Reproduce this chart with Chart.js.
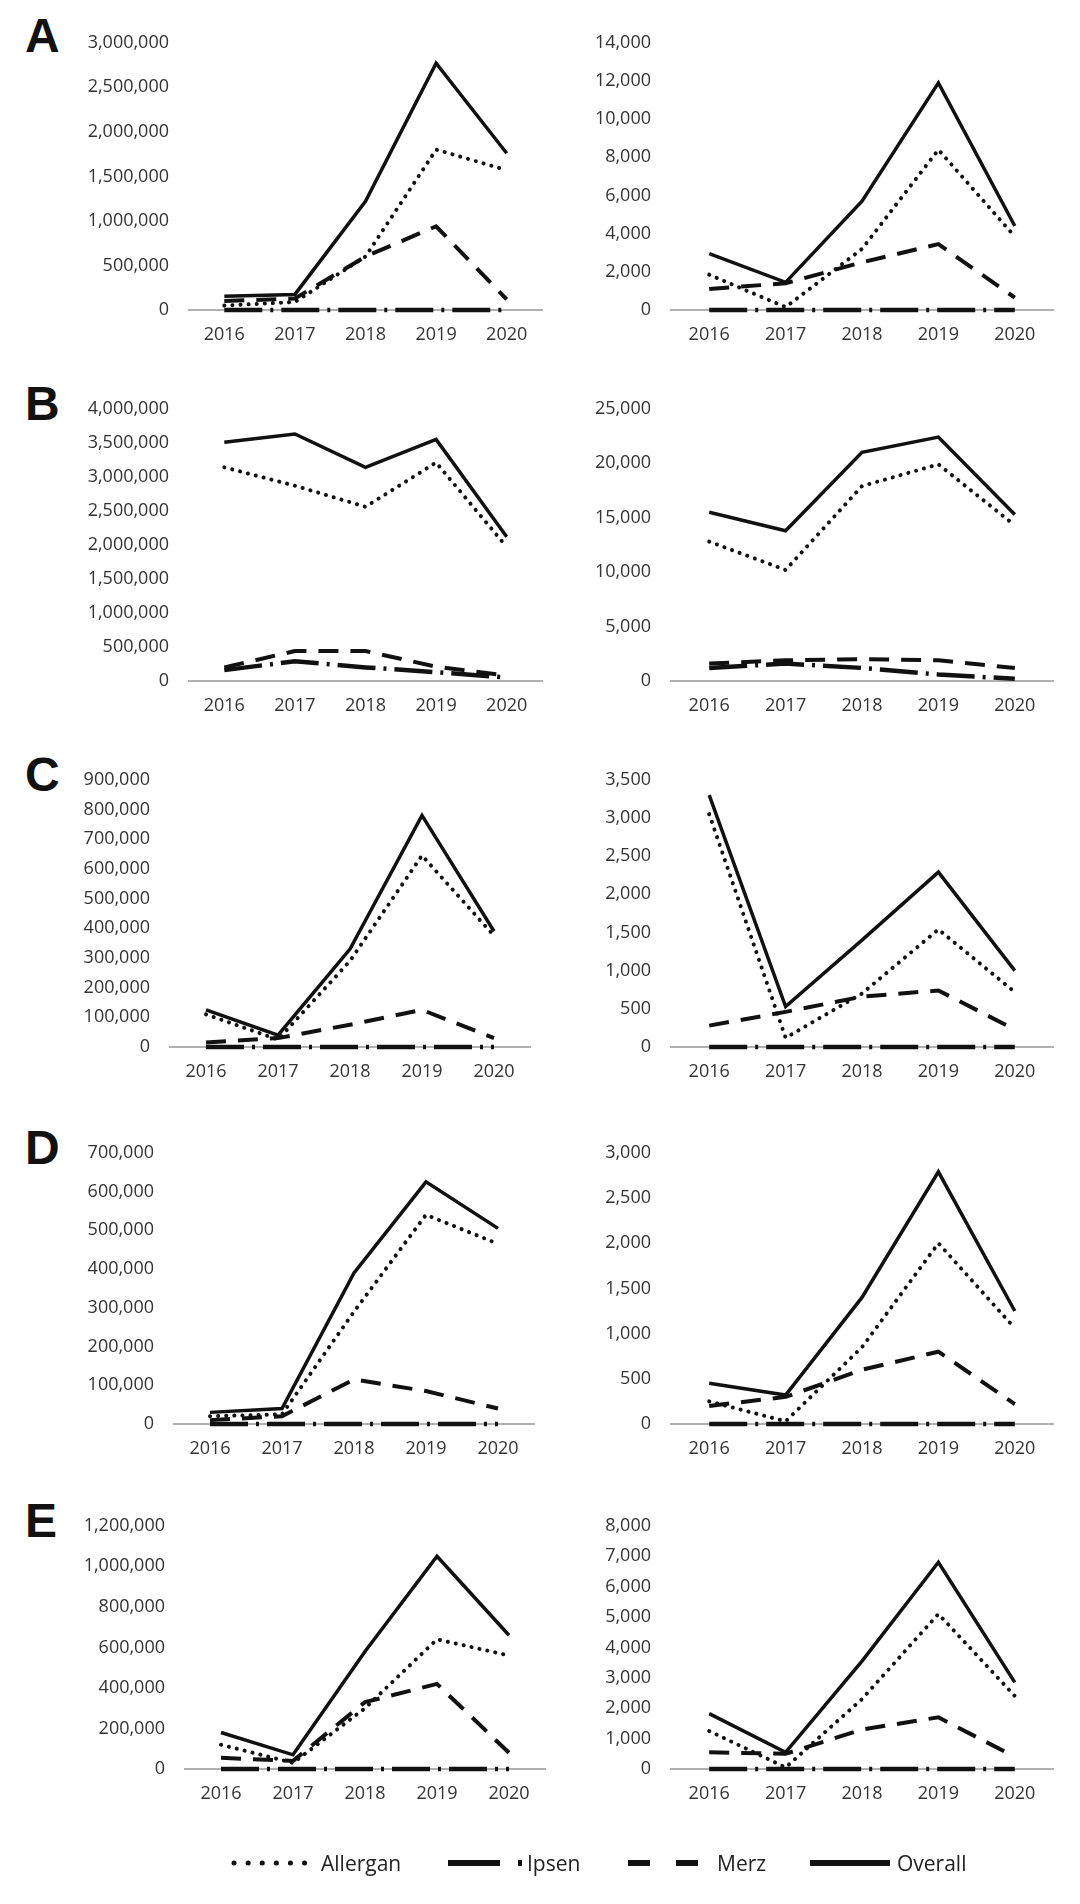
<!DOCTYPE html>
<html>
<head>
<meta charset="utf-8">
<script src="https://cdn.jsdelivr.net/npm/chart.js@4.4.1/dist/chart.umd.min.js"></script>
<style>
  body { margin: 0; background: #fff; width: 1080px; height: 1904px; position: relative; overflow: hidden; }
  canvas { position: absolute; }
  .tag { position: absolute; left: 25px; font: bold 48px 'Liberation Sans', Arial, sans-serif; color: #111; line-height: 1; }
  .lg { position: absolute; top: 1849px; font: 21px 'Open Sans', sans-serif; color: #222; line-height: 28px; }
</style>
</head>
<body>
<div class="tag" style="top:12px">A</div>
<div class="tag" style="top:380px">B</div>
<div class="tag" style="top:751px">C</div>
<div class="tag" style="top:1124px">D</div>
<div class="tag" style="top:1497px">E</div>

<canvas id="legendLines" width="1080" height="40" style="left:0;top:1843px"></canvas>
<div class="lg" style="left:321px">Allergan</div>
<div class="lg" style="left:527px">Ipsen</div>
<div class="lg" style="left:717px">Merz</div>
<div class="lg" style="left:897px">Overall</div>

<script>
// years on the x axis
const years = ['2016', '2017', '2018', '2019', '2020'];

// A, left (max, step) and series
const aLAxis     = [3000000, 500000];
const aLAllergan = [50000, 90000, 600000, 1800000, 1570000];
const aLIpsen    = [0, 0, 0, 0, 0];
const aLMerz     = [100000, 130000, 600000, 940000, 120000];
const aLOverall  = [155000, 175000, 1220000, 2770000, 1760000];

// A, right
const aRAxis     = [14000, 2000];
const aRAllergan = [1850, 150, 3200, 8400, 3850];
const aRIpsen    = [0, 0, 0, 0, 0];
const aRMerz     = [1100, 1400, 2500, 3450, 650];
const aROverall  = [2950, 1450, 5700, 11900, 4400];

// B, left
const bLAxis     = [4000000, 500000];
const bLAllergan = [3140000, 2870000, 2560000, 3210000, 1970000];
const bLIpsen    = [160000, 290000, 200000, 130000, 50000];
const bLMerz     = [200000, 440000, 440000, 210000, 80000];
const bLOverall  = [3510000, 3630000, 3140000, 3550000, 2120000];

// B, right
const bRAxis     = [25000, 5000];
const bRAllergan = [12800, 10200, 17900, 19900, 14300];
const bRIpsen    = [1200, 1600, 1200, 600, 200];
const bRMerz     = [1600, 1900, 2000, 1900, 1200];
const bROverall  = [15500, 13800, 21000, 22400, 15300];

// C, left
const cLAxis     = [900000, 100000];
const cLAllergan = [110000, 25000, 290000, 645000, 375000];
const cLIpsen    = [0, 0, 0, 0, 0];
const cLMerz     = [15000, 30000, 75000, 125000, 30000];
const cLOverall  = [125000, 40000, 330000, 780000, 390000];

// C, right
const cRAxis     = [3500, 500];
const cRAllergan = [3050, 120, 700, 1540, 720];
const cRIpsen    = [0, 0, 0, 0, 0];
const cRMerz     = [280, 460, 660, 740, 230];
const cROverall  = [3300, 530, 1400, 2290, 1000];

// D, left
const dLAxis     = [700000, 100000];
const dLAllergan = [20000, 25000, 290000, 540000, 465000];
const dLIpsen    = [0, 0, 0, 0, 0];
const dLMerz     = [10000, 20000, 115000, 85000, 40000];
const dLOverall  = [30000, 40000, 390000, 625000, 505000];

// D, right
const dRAxis     = [3000, 500];
const dRAllergan = [250, 30, 850, 2000, 1060];
const dRIpsen    = [0, 0, 0, 0, 0];
const dRMerz     = [200, 300, 600, 800, 220];
const dROverall  = [450, 320, 1400, 2790, 1250];

// E, left
const eLAxis     = [1200000, 200000];
const eLAllergan = [120000, 30000, 300000, 640000, 560000];
const eLIpsen    = [0, 0, 0, 0, 0];
const eLMerz     = [55000, 40000, 330000, 420000, 80000];
const eLOverall  = [180000, 70000, 580000, 1050000, 660000];

// E, right
const eRAxis     = [8000, 1000];
const eRAllergan = [1250, 50, 2300, 5100, 2400];
const eRIpsen    = [0, 0, 0, 0, 0];
const eRMerz     = [550, 500, 1300, 1700, 400];
const eROverall  = [1820, 550, 3550, 6800, 2850];

// line look for Allergan, Ipsen, Merz, Overall
const lineStyles = [
  { borderWidth: 4, borderDash: [0.1, 8], borderCapStyle: 'round' },
  { borderWidth: 4.5, borderDash: [38, 8, 3, 8], borderCapStyle: 'butt' },
  { borderWidth: 4, borderDash: [20, 12], borderCapStyle: 'butt' },
  { borderWidth: 3.5, borderDash: [], borderCapStyle: 'butt' }
];

// plot boxes on the page: left, top, right, bottom
const panels = [
  { series: [aLAllergan, aLIpsen, aLMerz, aLOverall], axis: aLAxis, box: [189, 32, 542, 310] },
  { series: [aRAllergan, aRIpsen, aRMerz, aROverall], axis: aRAxis, box: [671, 32, 1053, 310] },
  { series: [bLAllergan, bLIpsen, bLMerz, bLOverall], axis: bLAxis, box: [189, 398, 542, 681] },
  { series: [bRAllergan, bRIpsen, bRMerz, bROverall], axis: bRAxis, box: [671, 398, 1053, 681] },
  { series: [cLAllergan, cLIpsen, cLMerz, cLOverall], axis: cLAxis, box: [170, 769, 530, 1047] },
  { series: [cRAllergan, cRIpsen, cRMerz, cROverall], axis: cRAxis, box: [671, 769, 1053, 1047] },
  { series: [dLAllergan, dLIpsen, dLMerz, dLOverall], axis: dLAxis, box: [174, 1142, 534, 1424] },
  { series: [dRAllergan, dRIpsen, dRMerz, dROverall], axis: dRAxis, box: [671, 1142, 1053, 1424] },
  { series: [eLAllergan, eLIpsen, eLMerz, eLOverall], axis: eLAxis, box: [185, 1515, 545, 1769] },
  { series: [eRAllergan, eRIpsen, eRMerz, eROverall], axis: eRAxis, box: [671, 1515, 1053, 1769] }
];

const tickFont = { family: 'Open Sans', size: 18 };
const Y_W = 150, X_H = 50, PAD = 20;

function makePanel(p) {
  const [L, T, R, B] = p.box;
  const cv = document.createElement('canvas');
  cv.width = (R - L) + Y_W + PAD;
  cv.height = (B - T) + X_H + PAD;
  cv.style.left = (L - Y_W) + 'px';
  cv.style.top = (T - PAD) + 'px';
  document.body.appendChild(cv);

  new Chart(cv, {
    type: 'line',
    data: {
      labels: years,
      datasets: p.series.map((d, i) => Object.assign({
        data: d,
        borderColor: '#111',
        pointRadius: 0,
        tension: 0,
        fill: false,
        clip: false
      }, lineStyles[i]))
    },
    options: {
      responsive: false,
      animation: false,
      layout: { padding: { top: PAD, right: PAD, left: 0, bottom: 0 } },
      plugins: { legend: { display: false }, tooltip: { enabled: false } },
      scales: {
        x: {
          offset: true,
          grid: { display: false, drawTicks: false },
          border: { display: true, color: '#b0b0b0', width: 2 },
          ticks: { padding: 14, color: '#333', font: tickFont, maxRotation: 0, autoSkip: false },
          afterFit: s => { s.height = X_H; }
        },
        y: {
          min: 0,
          max: p.axis[0],
          grid: { display: false, drawTicks: false },
          border: { display: false },
          ticks: {
            stepSize: p.axis[1],
            padding: 20,
            color: '#333',
            font: tickFont,
            callback: v => v.toLocaleString('en-US')
          },
          afterFit: s => { s.width = Y_W; }
        }
      }
    }
  });
}

panels.forEach(makePanel);

// legend samples
const lc = document.getElementById('legendLines').getContext('2d');
lc.strokeStyle = '#111';
function sample(x1, x2, w, dash, cap) {
  lc.beginPath();
  lc.lineWidth = w;
  lc.setLineDash(dash);
  lc.lineCap = cap;
  lc.moveTo(x1, 20);
  lc.lineTo(x2, 20);
  lc.stroke();
}
sample(234, 306, 5, [0.1, 14], 'round');
sample(448, 525, 6, [52, 18, 4, 40], 'butt');
sample(628, 704, 6, [22, 26], 'butt');
sample(810, 890, 6, [], 'butt');
</script>
</body>
</html>
